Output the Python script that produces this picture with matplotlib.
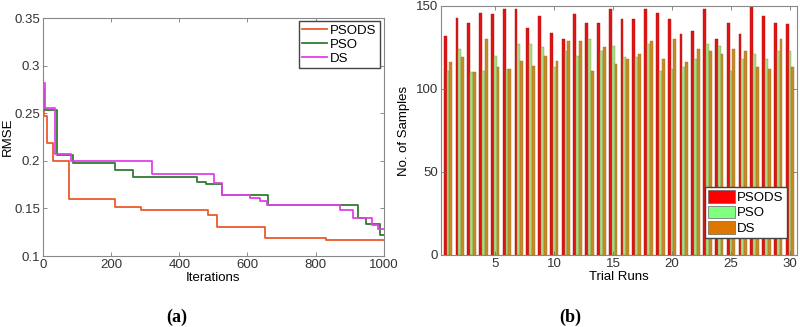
import matplotlib
matplotlib.use('Agg')
import matplotlib.pyplot as plt
import numpy as np

plt.rcParams['font.family'] = ['Liberation Sans', 'DejaVu Sans']

# (a) RMSE convergence, step points
psods_it = [0, 3, 11, 28, 77, 211, 289, 485, 511, 651, 830, 1000]
psods_val = [0.270, 0.247, 0.219, 0.200, 0.160, 0.152, 0.148, 0.143, 0.130, 0.119, 0.117, 0.117]

pso_it = [0, 3, 40, 87, 211, 263, 451, 477, 524, 661, 923, 947, 990, 1000]
pso_val = [0.275, 0.253, 0.206, 0.198, 0.1905, 0.1835, 0.178, 0.1755, 0.164, 0.1537, 0.1397, 0.1337, 0.122, 0.122]

ds_it = [0, 6, 35, 81, 319, 501, 524, 607, 636, 656, 871, 909, 964, 983, 1000]
ds_val = [0.282, 0.256, 0.207, 0.200, 0.186, 0.177, 0.164, 0.1607, 0.158, 0.1535, 0.1484, 0.1397, 0.1326, 0.128, 0.128]

# (b) samples per trial run
runs = np.arange(1, 31)
psods_n = [132, 143, 140, 146, 145, 148, 148, 137, 144, 134, 130, 145, 140, 140, 148,
           142, 142, 148, 146, 142, 133, 135, 148, 130, 140, 133, 150, 144, 140, 139]
pso_n = [111, 124, 110, 111, 120, 112, 127, 127, 125, 113, 123, 120, 130, 123, 126,
         119, 119, 127, 111, 112, 113, 118, 127, 126, 111, 118, 121, 118, 123, 123]
ds_n = [116, 119, 110, 130, 113, 112, 117, 114, 120, 117, 129, 129, 111, 125, 115,
        118, 121, 129, 118, 130, 116, 124, 123, 121, 124, 123, 113, 112, 130, 113]

fig = plt.figure(figsize=(8, 3.27), dpi=100)
ax1 = fig.add_axes([0.05375, 0.2171, 0.426, 0.7278])
ax2 = fig.add_axes([0.55125, 0.2202, 0.445, 0.7615])

ax1.plot(psods_it, psods_val, color='#ec5a2c', lw=1.3, drawstyle='steps-post', label='PSODS')
ax1.plot(pso_it, pso_val, color='#2f7d2f', lw=1.3, drawstyle='steps-post', label='PSO')
ax1.plot(ds_it, ds_val, color='#e040e8', lw=1.3, drawstyle='steps-post', label='DS')
ax1.set_xlim(0, 1000)
ax1.set_ylim(0.1, 0.35)
ax1.set_xticks([0, 200, 400, 600, 800, 1000])
ax1.set_yticks([0.1, 0.15, 0.2, 0.25, 0.3, 0.35])
ax1.set_yticklabels(['0.1', '0.15', '0.2', '0.25', '0.3', '0.35'])
ax1.set_xlabel('Iterations', fontsize=9.5, labelpad=1)
ax1.set_ylabel('RMSE', fontsize=9.5, labelpad=0)
ax1.legend(loc='upper right', bbox_to_anchor=(0.988, 0.987), fontsize=9.5, fancybox=False,
           edgecolor='#444444', framealpha=1, handlelength=1.9, labelspacing=0.15,
           borderpad=0.25, handletextpad=0.2, borderaxespad=0)

w = 0.24
ax2.bar(runs - 0.24, psods_n, w, color='#e01414', edgecolor='#b01010', linewidth=0.3,
        label='PSODS')
ax2.bar(runs, pso_n, w, color='#a8dc88', edgecolor='#8a9a40', linewidth=0.3, label='PSO')
ax2.bar(runs + 0.24, ds_n, w, color='#c98a26', edgecolor='#9a7020', linewidth=0.3, label='DS')
ax2.set_xlim(0.4, 30.6)
ax2.set_ylim(0, 150)
ax2.set_xticks([5, 10, 15, 20, 25, 30])
ax2.set_yticks([0, 50, 100, 150])
ax2.set_xlabel('Trial Runs', fontsize=9.5, labelpad=1)
ax2.set_ylabel('No. of Samples', fontsize=9.5, labelpad=4)
leg = ax2.legend(loc='lower right', bbox_to_anchor=(0.972, 0.068), fontsize=9.5, fancybox=False,
                 edgecolor='#444444', framealpha=1, handlelength=2.0, handleheight=1.1,
                 labelspacing=0.12, borderpad=0.25, handletextpad=0.2, borderaxespad=0)
for patch, c in zip(leg.get_patches(), ['#ff0000', '#80ff80', '#dd7700']):
    patch.set_facecolor(c)
    patch.set_edgecolor('#666666')
    patch.set_linewidth(0.5)

for ax in (ax1, ax2):
    ax.tick_params(direction='in', length=3, width=0.6, labelsize=9.5, top=True, right=True,
                   colors='#777777', labelcolor='#333333', pad=2)
    for s in ax.spines.values():
        s.set_color('#888888')
        s.set_linewidth(0.8)

fig.text(0.2213, 0.03, '(a)', ha='center', va='center', fontsize=13, fontweight='bold',
         family='Liberation Serif')
fig.text(0.7125, 0.03, '(b)', ha='center', va='center', fontsize=13, fontweight='bold',
         family='Liberation Serif')

plt.savefig('out.png', dpi=100)
